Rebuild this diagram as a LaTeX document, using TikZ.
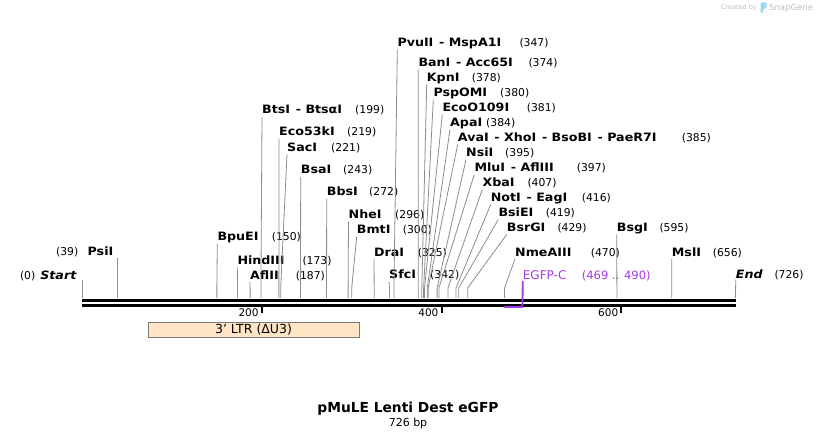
\documentclass[tikz,border=0pt]{standalone}
\usepackage{fontspec}
\setmainfont{DejaVu Sans}
\newfontfamily\enzfont{DejaVu Sans}[FakeStretch=1.1]
\definecolor{sitegray}{HTML}{8C8C8C}
\definecolor{egfppurple}{HTML}{A23AE6}
\definecolor{ltrpeach}{HTML}{FFE4C6}
\definecolor{ltredge}{HTML}{7A7A7A}
\definecolor{markgray}{HTML}{BDBDBD}
\definecolor{logoblue}{HTML}{9AD6F5}
\tikzset{
  enz/.style={font=\enzfont\fontsize{11.5}{13}\selectfont\bfseries, inner sep=0pt, anchor=base west},
  num/.style={font=\fontsize{10.8}{12}\selectfont, inner sep=0pt, anchor=base west},
  siteline/.style={draw=sitegray, line width=0.8pt},
}
\begin{document}
\begin{tikzpicture}[x=1pt,y=-1pt]
  \useasboundingbox (0,0) rectangle (818,438);

  % Backbone
  \draw[line width=3pt] (82,300) -- (735.5,300);
  \draw[line width=3pt] (82,305) -- (735.5,305);

  % Ruler ticks
  \foreach \t in {200,400,600} {
    \coordinate (t\t) at ({82+0.899*\t},306.5);
    \draw[line width=2pt] (t\t) -- ++(0,6);
    \node[num, anchor=base east, font=\fontsize{10.5}{12}\selectfont] (tl\t) at ([xshift=-3pt,yshift=-9.5pt]t\t) {\t};
  }

  % Start and End
  \coordinate (s0) at (82,298);
  \node[enz, anchor=base east, font=\enzfont\fontsize{11.5}{13}\selectfont\bfseries\itshape] (lstart) at (76.5,279) {Start};
  \node[num, anchor=base east] (nstart) at (35.5,279) {(0)};
  \draw[siteline] (s0) -- ++(0,-18);
  \coordinate (s726) at (735.5,298);
  \node[enz, font=\enzfont\fontsize{11.5}{13}\selectfont\bfseries\itshape] (lend) at (735.7,278.5) {End};
  \node[num] (nend) at (774.3,278.5) {(726)};
  \draw[siteline] (s726) -- ([yshift=-1pt]lend.base west);

  % PsiI, labelled on the left
  \coordinate (s39) at ({82+0.899*39},298);
  \node[enz, anchor=base east] (lpsi) at (113.5,255.7) {PsiI};
  \node[num, anchor=base east] (npsi) at (78.5,255.7) {(39)};
  \draw[siteline] (s39) -- ++(0,-40.5);

  % Enzyme sites
  \foreach \nm/\pos/\lx/\ly/\nx/\txt in {
      bpu/150/217.3/240.5/271.7/BpuEI,
      hind/173/237.3/264/302.3/HindIII,
      afl/187/250/279/295.7/AflII,
      bts/199/262/114/355/{BtsI\enspace- BtsαI},
      eco/219/279/135.5/347/Eco53kI,
      sac/221/287/151.5/331/SacI,
      bsa/243/300.7/174/343/BsaI,
      bbs/272/326.7/196/369/BbsI,
      nhe/296/348.5/218.5/395/NheI,
      bmt/300/356.7/233.5/402.7/BmtI,
      dra/325/374/256/417.7/DraI,
      sfc/342/389/278.5/430/SfcI,
      pvu/347/397.3/46.5/519.3/{PvuII\enspace- MspA1I},
      ban/374/418.3/66.5/528.3/{BanI\enspace- Acc65I},
      kpn/378/426.7/81.5/471.7/KpnI,
      psp/380/433.3/96.5/500/PspOMI,
      ecoo/381/442.3/111.5/526.7/EcoO109I,
      apa/384/450/126.5/486/ApaI,
      ava/385/457.7/141.5/681.7/{AvaI\enspace- XhoI\enspace- BsoBI\enspace- PaeR7I},
      nsi/395/466/156.5/505/NsiI,
      mlu/397/474.3/171.5/576.7/{MluI\enspace- AflIII},
      xba/407/482.3/186.5/527.3/XbaI,
      not/416/490.7/201.5/581.7/{NotI\enspace- EagI},
      bsie/419/498.3/216.5/545.7/BsiEI,
      bsrg/429/506.7/231.5/557.3/BsrGI,
      nme/470/515/256/590.7/NmeAIII,
      bsg/595/616.7/231.5/659.3/BsgI,
      msl/656/671.7/256/712.7/MslI} {
    \coordinate (s\nm) at ({82+0.899*\pos},298);
    \node[enz] (l\nm) at (\lx,\ly) {\txt};
    \node[num] (n\nm) at (\nx,\ly) {(\pos)};
    \draw[siteline] (s\nm) -- ++(0,-10) -- ([yshift=-3pt]l\nm.base west);
  }

  % EGFP-C feature
  \coordinate (g469) at ({82+0.899*469},307);
  \coordinate (g490) at ({82+0.899*490},307);
  \node[font=\fontsize{12}{14}\selectfont, text=egfppurple, inner sep=0pt, anchor=base west] (egfp) at (522.7,279) {EGFP-C};
  \node[font=\fontsize{11.5}{14}\selectfont, text=egfppurple, inner sep=0pt, anchor=base west] (negfp) at (581.7,279) {(469 .. 490)};
  \draw[egfppurple, line width=1.8pt] (g469) -- (g490) -- ([yshift=-2pt]egfp.base west);

  % 3' LTR feature
  \node[draw=ltredge, fill=ltrpeach, line width=0.8pt, minimum width=211pt, minimum height=15pt, inner sep=0pt,
        font=\fontsize{12.5}{13}\selectfont] (ltr) at (253.5,329.5) {3' LTR (ΔU3)};

  % Title
  \node[font=\fontsize{13.8}{15}\selectfont\bfseries, inner sep=0pt, anchor=base] (title) at (408,412.5) {pMuLE Lenti Dest eGFP};
  \node[font=\fontsize{11}{12}\selectfont, inner sep=0pt, anchor=base] (size) at (408,426) {726 bp};

  % Watermark
  \node[font=\fontsize{6.5}{8}\selectfont, text=markgray, inner sep=0pt, anchor=base east] (mark) at (757,10) {Created by};
  \fill[logoblue, rounded corners=1pt] (760.5,2.5) -- (766.5,2.5) -- (766.5,8) -- (763.2,9) -- (763.2,13) -- (760.5,13) -- cycle;
  \node[font=\fontsize{8.5}{10}\selectfont, text=markgray, inner sep=0pt, anchor=base west] (markname) at (769,10.5) {SnapGene};
\end{tikzpicture}
\end{document}
